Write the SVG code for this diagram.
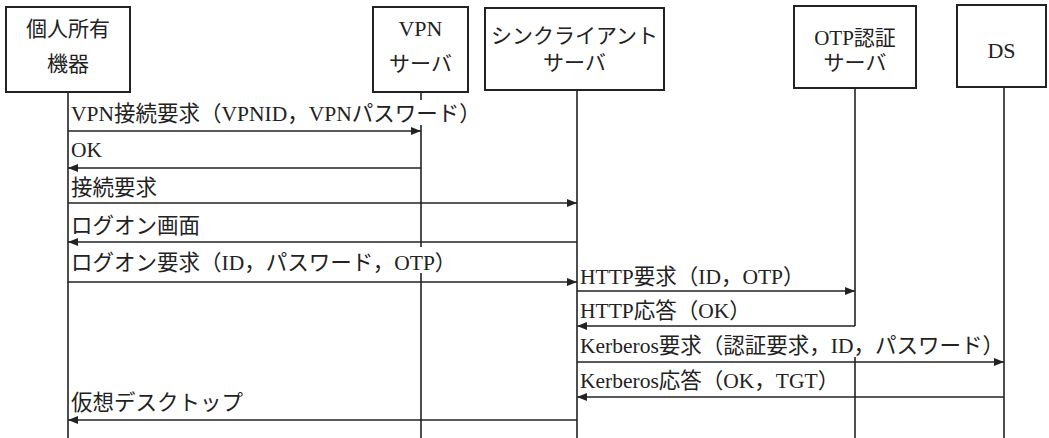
<svg xmlns="http://www.w3.org/2000/svg" width="1049" height="438" viewBox="0 0 1049 438">
<style>
.box{fill:#fff;stroke:#222;stroke-width:2}
.ll{stroke:#222;stroke-width:1.6;fill:none}
.msg{stroke:#222;stroke-width:1.6;fill:none}
.t{font-family:"Liberation Serif","Noto Sans CJK JP",serif;fill:#222}
.bt{font-size:21px;text-anchor:middle}
.lt{font-size:21.5px}
</style>
<defs>
<marker id="ah" viewBox="0 0 10 8" refX="10" refY="4" markerWidth="10" markerHeight="8" markerUnits="userSpaceOnUse" orient="auto">
<path d="M0,0 L10,4 L0,8 Z" fill="#222"/>
</marker>
</defs>
<rect width="1049" height="438" fill="#fff"/>
<g id="n1"><rect class="box" x="6" y="7" width="124" height="85"/>
<text class="t bt" x="68" y="36">個人所有</text><text class="t bt" x="68" y="71">機器</text></g>
<g id="n2"><rect class="box" x="373" y="7" width="95" height="85"/>
<text class="t bt" x="420.5" y="36" style="font-size:22px">VPN</text><text class="t bt" x="420.5" y="71">サーバ</text></g>
<g id="n3"><rect class="box" x="485" y="8" width="179" height="82"/>
<text class="t bt" x="574.5" y="43">シンクライアント</text><text class="t bt" x="574.5" y="70">サーバ</text></g>
<g id="n4"><rect class="box" x="794" y="6" width="122" height="82"/>
<text class="t bt" x="855" y="45">OTP認証</text><text class="t bt" x="855" y="70">サーバ</text></g>
<g id="n5"><rect class="box" x="957" y="5" width="89" height="82"/>
<text class="t bt" x="1001.5" y="58" style="font-size:22px">DS</text></g>
<g id="lifelines">
<line class="ll" x1="68" y1="92" x2="68" y2="438"/>
<line class="ll" x1="421" y1="92" x2="421" y2="100"/>
<line class="ll" x1="421" y1="125" x2="421" y2="247"/>
<line class="ll" x1="421" y1="273" x2="421" y2="438"/>
<line class="ll" x1="577" y1="90" x2="577" y2="438"/>
<line class="ll" x1="855" y1="88" x2="855" y2="326"/>
<line class="ll" x1="855" y1="357" x2="855" y2="438"/>
<line class="ll" x1="1004" y1="87" x2="1004" y2="438"/>
</g>
<g id="connectors">
<line class="msg" x1="68" y1="131" x2="421" y2="131" marker-end="url(#ah)"/>
<line class="msg" x1="421" y1="168" x2="68" y2="168" marker-end="url(#ah)"/>
<line class="msg" x1="68" y1="203" x2="577" y2="203" marker-end="url(#ah)"/>
<line class="msg" x1="577" y1="242" x2="68" y2="242" marker-end="url(#ah)"/>
<line class="msg" x1="68" y1="282" x2="577" y2="282" marker-end="url(#ah)"/>
<line class="msg" x1="577" y1="291" x2="855" y2="291" marker-end="url(#ah)"/>
<line class="msg" x1="855" y1="326" x2="577" y2="326" marker-end="url(#ah)"/>
<line class="msg" x1="577" y1="362" x2="1004" y2="362" marker-end="url(#ah)"/>
<line class="msg" x1="1004" y1="397" x2="577" y2="397" marker-end="url(#ah)"/>
<line class="msg" x1="577" y1="420" x2="68" y2="420" marker-end="url(#ah)"/>
</g>
<g id="labels">
<text class="t lt" x="71" y="121">VPN接続要求（VPNID，VPNパスワード）</text>
<text class="t lt" x="71" y="157">OK</text>
<text class="t lt" x="71" y="195">接続要求</text>
<text class="t lt" x="71" y="233">ログオン画面</text>
<text class="t lt" x="71" y="270">ログオン要求（ID，パスワード，OTP）</text>
<text class="t lt" x="580" y="284">HTTP要求（ID，OTP）</text>
<text class="t lt" x="580" y="318">HTTP応答（OK）</text>
<text class="t lt" x="580" y="353">Kerberos要求（認証要求，ID，パスワード）</text>
<text class="t lt" x="580" y="388">Kerberos応答（OK，TGT）</text>
<text class="t lt" x="71" y="410">仮想デスクトップ</text>
</g>
</svg>
